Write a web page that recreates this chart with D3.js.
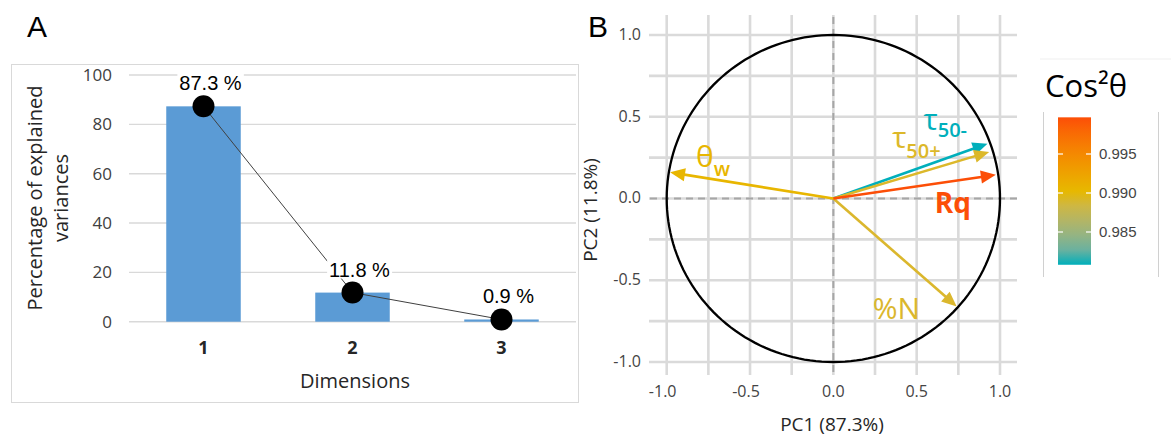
<!DOCTYPE html>
<html>
<head>
<meta charset="utf-8">
<script src="https://cdn.jsdelivr.net/npm/d3@7"></script>
<style>
  body { margin: 0; background: #fff; }
  svg { display: block; }
</style>
</head>
<body>
<svg id="fig" width="1171" height="436"></svg>
<script>
// ---- data ----
var dims = ["1", "2", "3"];
var explained = [87.3, 11.8, 0.9];
var yTicksA = [0, 20, 40, 60, 80, 100];

var varMain = ["\u03B8", "\u03C4", "\u03C4", "Rq", "%N"];
var varSub = ["w", "50-", "50+", "", ""];
var pc1 = [-0.98, 0.925, 0.935, 0.975, 0.74];
var pc2 = [0.16, 0.335, 0.285, 0.145, -0.66];
var cos2 = [0.9905, 0.9808, 0.9894, 0.9997, 0.9893];
var bTicks = [-1, -0.5, 0, 0.5, 1];
var gridSteps = [-1, -0.75, -0.5, -0.25, 0, 0.25, 0.5, 0.75, 1];
var legendTicks = [0.985, 0.990, 0.995];

// label placement (pixels from arrow tip) and look
var labelOffset = [[26, -5], [-64, -14], [-97, -4], [-61, 38], [-84, 13]];
var subShift = [9, 7, 10, 0, 0];

var svg = d3.select("#fig");
var sans = "'Open Sans', sans-serif";
var arial = "'Liberation Sans', Arial, sans-serif";
var fmt1 = d => d3.format(".1f")(d).replace("\u2212", "-");

// ================= Panel A =================
svg.append("text").attr("x", 27).attr("y", 37)
    .style("font-family", arial).style("font-size", "30px").text("A");

svg.append("rect")
    .attr("x", 11.5).attr("y", 64.5).attr("width", 567).attr("height", 338)
    .attr("fill", "none").attr("stroke", "#d9d9d9");

var xA = d3.scaleBand().domain(dims).range([129, 576]).paddingInner(0.5).paddingOuter(0.25);
var yA = d3.scaleLinear().domain([0, 100]).range([321.7, 75]);

svg.append("g").selectAll("line")
    .data(yTicksA).enter().append("line")
    .attr("x1", 129).attr("x2", 576)
    .attr("y1", d => yA(d)).attr("y2", d => yA(d))
    .attr("stroke", "#d9d9d9").attr("stroke-width", 1.4);

svg.append("g").selectAll("text")
    .data(yTicksA).enter().append("text")
    .attr("x", 112).attr("y", d => yA(d))
    .attr("dy", "0.36em").attr("text-anchor", "end")
    .style("font-family", sans).style("font-size", "17px").style("fill", "#404040")
    .text(d => d);

var barData = dims.map((d, i) => ({dim: d, v: explained[i]}));

svg.append("g").selectAll("rect")
    .data(barData).enter().append("rect")
    .attr("x", d => xA(d.dim))
    .attr("y", d => yA(d.v))
    .attr("width", xA.bandwidth())
    .attr("height", d => yA(0) - yA(d.v))
    .attr("fill", "#5b9bd5");

svg.append("g").selectAll("text")
    .data(dims).enter().append("text")
    .attr("x", d => xA(d) + xA.bandwidth() / 2).attr("y", 354)
    .attr("text-anchor", "middle")
    .style("font-family", sans).style("font-size", "18px").style("font-weight", "bold")
    .style("fill", "#262626")
    .text(d => d);

svg.append("text")
    .attr("x", 355).attr("y", 388).attr("text-anchor", "middle")
    .style("font-family", sans).style("font-size", "20px").style("fill", "#262626")
    .text("Dimensions");

var yTitle = svg.append("text")
    .attr("transform", "translate(0,198) rotate(-90)")
    .attr("text-anchor", "middle")
    .style("font-family", sans).style("font-size", "20px").style("fill", "#262626");
yTitle.append("tspan").attr("x", 0).attr("y", 42).text("Percentage of explained");
yTitle.append("tspan").attr("x", 0).attr("y", 68).text("variances");

var cx = d => xA(d.dim) + xA.bandwidth() / 2;

svg.append("path")
    .datum(barData)
    .attr("fill", "none").attr("stroke", "#404040").attr("stroke-width", 1)
    .attr("d", d3.line().x(cx).y(d => yA(d.v)));

var lab = svg.append("g").selectAll("g")
    .data(barData).enter().append("g");
lab.append("rect").attr("fill", "#fff");
lab.append("text")
    .attr("x", d => cx(d) + 7).attr("y", d => yA(d.v) - 16)
    .attr("text-anchor", "middle")
    .style("font-family", arial).style("font-size", "20px").style("fill", "#000")
    .text(d => d.v + " %");
lab.each(function() {
    var g = d3.select(this);
    var bb = g.select("text").node().getBBox();
    g.select("rect")
        .attr("x", bb.x - 2).attr("y", bb.y)
        .attr("width", bb.width + 4).attr("height", bb.height - 2);
});

svg.append("g").selectAll("circle")
    .data(barData).enter().append("circle")
    .attr("cx", cx).attr("cy", d => yA(d.v)).attr("r", 11)
    .attr("fill", "#000");

// ================= Panel B =================
svg.append("text").attr("x", 588).attr("y", 37)
    .style("font-family", arial).style("font-size", "30px").text("B");

var xB = d3.scaleLinear().domain([-1, 1]).range([666.7, 1000]);
var yB = d3.scaleLinear().domain([-1, 1]).range([362, 35]);

svg.append("g").selectAll("line")
    .data(gridSteps).enter().append("line")
    .attr("x1", d => xB(d)).attr("x2", d => xB(d))
    .attr("y1", 15).attr("y2", 375)
    .attr("stroke", "#dadada").attr("stroke-width", 2.6);
svg.append("g").selectAll("line")
    .data(gridSteps).enter().append("line")
    .attr("x1", 649).attr("x2", 1017)
    .attr("y1", d => yB(d)).attr("y2", d => yB(d))
    .attr("stroke", "#dadada").attr("stroke-width", 2.6);

svg.append("line")
    .attr("x1", 650).attr("x2", 1021).attr("y1", yB(0)).attr("y2", yB(0))
    .attr("stroke", "#a6a6a6").attr("stroke-width", 2).attr("stroke-dasharray", "7,5");
svg.append("line")
    .attr("x1", xB(0)).attr("x2", xB(0)).attr("y1", 17).attr("y2", 374)
    .attr("stroke", "#a6a6a6").attr("stroke-width", 2).attr("stroke-dasharray", "7,5");

svg.append("g").selectAll("text")
    .data(bTicks).enter().append("text")
    .attr("x", 641).attr("y", d => yB(d)).attr("dy", "0.3em")
    .attr("text-anchor", "end")
    .style("font-family", sans).style("font-size", "16px").style("fill", "#444")
    .text(fmt1);
svg.append("g").selectAll("text")
    .data(bTicks).enter().append("text")
    .attr("x", d => xB(d) - (d < 0 ? 4 : 0)).attr("y", 397)
    .attr("text-anchor", "middle")
    .style("font-family", sans).style("font-size", "16px").style("fill", "#444")
    .text(fmt1);

svg.append("text")
    .attr("x", 832).attr("y", 431).attr("text-anchor", "middle")
    .style("font-family", sans).style("font-size", "19px").style("fill", "#262626")
    .text("PC1 (87.3%)");
svg.append("text")
    .attr("transform", "translate(597,210) rotate(-90)")
    .attr("text-anchor", "middle")
    .style("font-family", sans).style("font-size", "19px").style("fill", "#262626")
    .text("PC2 (11.8%)");

// correlation circle
var angles = d3.range(0, 361, 2).map(a => a * Math.PI / 180);
svg.append("path")
    .datum(angles)
    .attr("fill", "none").attr("stroke", "#000").attr("stroke-width", 2.3)
    .attr("d", d3.line().x(a => xB(Math.cos(a))).y(a => yB(Math.sin(a))));

// arrows coloured by cos2
var cosMin = d3.min(cos2), cosMax = d3.max(cos2);
var color = d3.scaleLinear()
    .domain([cosMin, (cosMin + cosMax) / 2, cosMax])
    .range(["#00AFBB", "#E7B800", "#FC4E07"])
    .interpolate(d3.interpolateLab);

var vars = varMain.map((m, i) => ({main: m, sub: varSub[i], x: pc1[i], y: pc2[i], c: cos2[i], i: i}));

var arrows = svg.append("g").selectAll("g")
    .data(vars.slice().sort((a, b) => a.c - b.c)).enter().append("g");

var headLen = 15, headW = 6.5;
arrows.append("line")
    .attr("x1", xB(0)).attr("y1", yB(0))
    .attr("x2", function(d) {
        var dx = xB(d.x) - xB(0), dy = yB(d.y) - yB(0), L = Math.hypot(dx, dy);
        return xB(d.x) - dx / L * (headLen - 2);
    })
    .attr("y2", function(d) {
        var dx = xB(d.x) - xB(0), dy = yB(d.y) - yB(0), L = Math.hypot(dx, dy);
        return yB(d.y) - dy / L * (headLen - 2);
    })
    .attr("stroke", d => color(d.c)).attr("stroke-width", 2.6);
arrows.append("path")
    .attr("fill", d => color(d.c))
    .attr("d", function(d) {
        var tx = xB(d.x), ty = yB(d.y);
        var dx = tx - xB(0), dy = ty - yB(0), L = Math.hypot(dx, dy);
        var ux = dx / L, uy = dy / L;
        var bx = tx - ux * headLen, by = ty - uy * headLen;
        return "M" + tx + "," + ty +
            "L" + (bx - uy * headW) + "," + (by + ux * headW) +
            "L" + (bx + uy * headW) + "," + (by - ux * headW) + "Z";
    });

var labels = svg.append("g").selectAll("text")
    .data(vars).enter().append("text")
    .attr("x", d => xB(d.x) + labelOffset[d.i][0])
    .attr("y", d => yB(d.y) + labelOffset[d.i][1])
    .style("font-family", sans)
    .style("fill", d => color(d.c));
labels.append("tspan")
    .style("font-size", d => d.main == "Rq" ? "28px" : "30px")
    .style("font-weight", d => d.main == "Rq" ? "bold" : "normal")
    .text(d => d.main);
labels.filter(d => d.sub != "").append("tspan")
    .attr("dy", d => subShift[d.i])
    .style("font-size", "20px").style("font-weight", "600")
    .text(d => d.sub);

// ================= Legend =================
svg.append("line").attr("x1", 1040).attr("x2", 1171).attr("y1", 59).attr("y2", 59)
    .attr("stroke", "#efefef");
svg.append("text").attr("x", 1045).attr("y", 97)
    .style("font-family", sans).style("font-size", "31px").style("fill", "#000")
    .text("Cos\u00B2\u03B8");
svg.append("g").selectAll("line")
    .data([1043, 1158]).enter().append("line")
    .attr("x1", d => d + 0.5).attr("x2", d => d + 0.5).attr("y1", 112).attr("y2", 277)
    .attr("stroke", "#d0d0d0");

var legY = d3.scaleLinear().domain([0.985, 0.995]).range([232, 154]);
var grad = svg.append("defs").append("linearGradient")
    .attr("id", "cosgrad").attr("x1", 0).attr("y1", 1).attr("x2", 0).attr("y2", 0);
grad.selectAll("stop")
    .data(d3.range(0, 1.001, 0.1)).enter().append("stop")
    .attr("offset", d => d)
    .attr("stop-color", d => color(cosMin + d * (cosMax - cosMin)));
svg.append("rect")
    .attr("x", 1058).attr("y", legY(cosMax))
    .attr("width", 33).attr("height", legY(cosMin) - legY(cosMax))
    .attr("fill", "url(#cosgrad)");
var lt = svg.append("g").selectAll("g").data(legendTicks).enter().append("g");
lt.append("line").attr("x1", 1058).attr("x2", 1063)
    .attr("y1", d => legY(d)).attr("y2", d => legY(d)).attr("stroke", "#fff").attr("stroke-width", 1.2);
lt.append("line").attr("x1", 1086).attr("x2", 1091)
    .attr("y1", d => legY(d)).attr("y2", d => legY(d)).attr("stroke", "#fff").attr("stroke-width", 1.2);
lt.append("text")
    .attr("x", 1099).attr("y", d => legY(d)).attr("dy", "0.36em")
    .style("font-family", arial).style("font-size", "15px").style("fill", "#444")
    .text(d => d3.format(".3f")(d));
</script>
</body>
</html>
